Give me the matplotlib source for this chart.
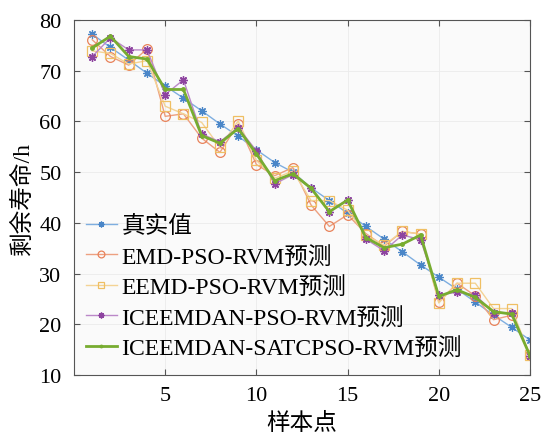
import numpy as np
import matplotlib.pyplot as plt

plt.rcParams['font.family'] = ['Liberation Serif', 'Noto Sans CJK SC']

# sample index and remaining life (h) for each model
samples = np.arange(1, 26)
true_life = [77.2, 74.6, 72.1, 69.5, 67.0, 64.6, 62.1, 59.5, 57.1, 54.4, 51.9, 50.0, 46.9,
             44.4, 41.9, 39.3, 36.8, 34.3, 31.7, 29.3, 26.9, 24.4, 21.8, 19.4, 16.9]
emd_pso = [76.1, 72.8, 71.1, 74.3, 61.0, 61.5, 56.7, 53.9, 59.5, 51.5, 49.3, 50.9, 43.5,
           39.3, 41.6, 37.9, 35.4, 38.3, 37.8, 24.4, 28.1, 25.6, 20.9, 21.8, 13.9]
eemd_pso = [73.9, 73.4, 71.3, 72.0, 63.0, 61.5, 59.8, 54.9, 60.1, 52.3, 48.8, 50.2, 44.4,
            44.4, 42.5, 37.6, 35.6, 38.3, 37.8, 24.2, 28.1, 28.1, 23.1, 23.1, 13.9]
iceemdan_pso = [72.8, 76.5, 74.1, 74.1, 65.3, 68.2, 57.5, 56.0, 58.8, 54.2, 47.7, 49.5, 46.8,
                42.2, 44.6, 36.8, 34.5, 37.6, 36.7, 25.8, 26.3, 25.8, 22.3, 22.3, 13.8]
iceemdan_satcpso = [74.5, 76.8, 72.8, 72.3, 66.3, 66.3, 57.2, 55.7, 58.6, 53.6, 48.3, 49.7, 46.8,
                    42.2, 44.5, 37.1, 35.1, 35.8, 37.6, 25.5, 26.8, 25.3, 22.5, 22.0, 13.8]

labels = ['真实值', 'EMD-PSO-RVM预测', 'EEMD-PSO-RVM预测',
          'ICEEMDAN-PSO-RVM预测', 'ICEEMDAN-SATCPSO-RVM预测']

asterisk = (8, 2, 0)

fig = plt.figure(figsize=(5.45, 4.39), dpi=100)
ax = fig.add_axes([74 / 545, 1 - 376 / 439, 456 / 545, 355 / 439])
ax.set_facecolor('#fafafa')

ax.plot(samples, true_life, color='#7eaee0', lw=1.0, marker=asterisk, ms=6,
        mec='#4a86c8', mew=0.9, label=labels[0])
ax.plot(samples, emd_pso, color='#eda080', lw=1.0, marker='o', ms=7,
        mfc='none', mec='#e8825a', mew=0.9, label=labels[1])
ax.plot(samples, eemd_pso, color='#f4d394', lw=1.0, marker='s', ms=6.5,
        mfc='none', mec='#efbf63', mew=0.9, label=labels[2])
ax.plot(samples, iceemdan_pso, color='#bb88c8', lw=1.0, marker=asterisk, ms=6,
        mec='#8e44a0', mew=1.0, label=labels[3])
ax.plot(samples, iceemdan_satcpso, color='#77ac30', lw=2.0, marker='.', ms=5,
        label=labels[4])

ax.set_xlim(0, 25)
ax.set_ylim(10, 80)
ax.set_xticks([5, 10, 15, 20, 25])
ax.set_yticks(range(10, 81, 10))
ax.tick_params(direction='in', top=True, right=True, labelsize=16,
               color='#555555', length=4, width=0.8)
ax.tick_params(axis='y', pad=9)
ax.tick_params(axis='x', pad=8)
for s in ax.spines.values():
    s.set_color('#555555')
    s.set_linewidth(0.8)
ax.grid(True, color='#ebebeb', lw=0.6)
ax.set_axisbelow(True)

ax.set_xlabel('样本点', fontsize=17, labelpad=5)
ax.set_ylabel('剩余寿命/h', fontsize=17, labelpad=4)

leg = ax.legend(loc='lower left', bbox_to_anchor=(0.0, 0.012), fontsize=17,
                frameon=False, handlelength=1.3, handletextpad=0.2,
                labelspacing=0.36, borderpad=0.2, borderaxespad=0.3,
                markerscale=0.7)

fig.savefig('out.png', dpi=100)
